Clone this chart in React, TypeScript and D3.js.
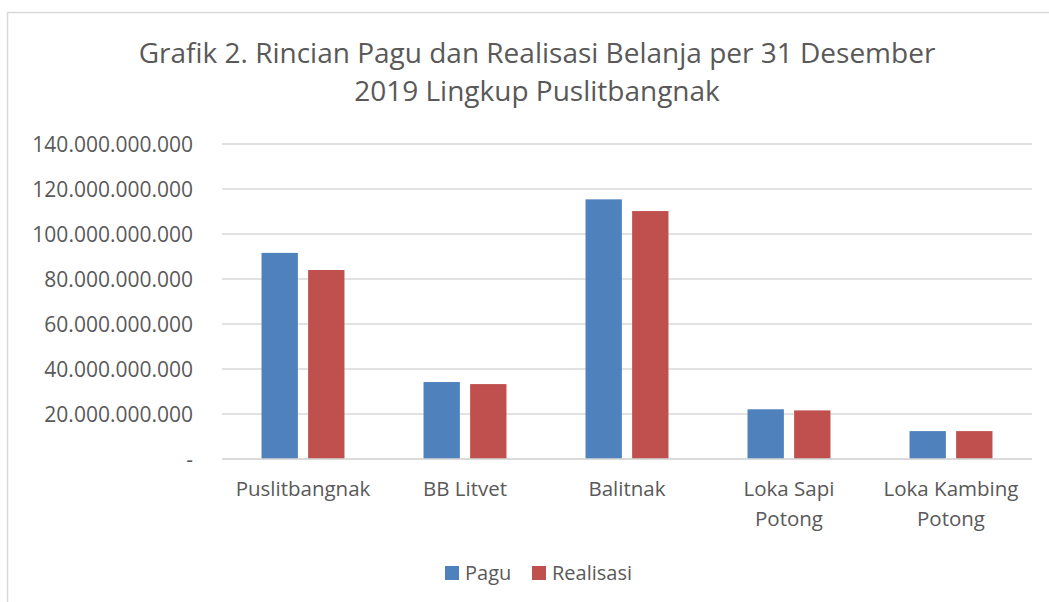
import React from "react";
import * as d3 from "d3";

const categories: string[][] = [
  ["Puslitbangnak"],
  ["BB Litvet"],
  ["Balitnak"],
  ["Loka Sapi", "Potong"],
  ["Loka Kambing", "Potong"],
];
const categoryKeys = ["Puslitbangnak", "BB Litvet", "Balitnak", "Loka Sapi Potong", "Loka Kambing Potong"];
const seriesNames = ["Pagu", "Realisasi"];
const pagu = [91.6e9, 34.2e9, 115.4e9, 22.1e9, 12.4e9];
const realisasi = [84.0e9, 33.3e9, 110.2e9, 21.6e9, 12.4e9];
const yTicks = [0, 20e9, 40e9, 60e9, 80e9, 100e9, 120e9, 140e9];
const titleLines = ["Grafik 2. Rincian Pagu dan Realisasi Belanja per 31 Desember", "2019 Lingkup Puslitbangnak"];
const colors = ["#4F81BD", "#C0504D"];

const FONT = "'Open Sans', 'Noto Sans', sans-serif";
const TEXT = "#595959";
const GRID = "#d9d9d9";

function fmt(v: number): string {
  if (v === 0) return "-";
  return d3.format(",")(v).replace(/,/g, ".");
}

export default function App() {
  const W = 1049, H = 602;
  const left = 222, right = 1032, top = 144, bottom = 459;
  const y = d3.scaleLinear().domain([0, 140e9]).range([bottom, top]);
  const x = d3.scaleBand<string>().domain(categoryKeys).range([left, right]).paddingInner(0.488).paddingOuter(0.244);
  const xs = d3.scaleBand<string>().domain(seriesNames).range([0, x.bandwidth()]).paddingInner(0.22).paddingOuter(0);
  const series = [pagu, realisasi];

  return (
    <svg width={W} height={H} style={{ position: "absolute", left: 0, top: 0, background: "#fff" }} fontFamily={FONT}>
      <rect x={0} y={0} width={W} height={H} fill="#fff" />
      <path d={`M7.5,${H} V12.5 H${W}`} fill="none" stroke={GRID} strokeWidth={1.5} />
      {titleLines.map((t, i) => (
        <text key={i} x={537} y={63 + i * 38} textAnchor="middle" fontSize={28} fill={TEXT}>{t}</text>
      ))}
      {yTicks.map((t) => (
        <g key={t}>
          <line x1={left} x2={right} y1={y(t)} y2={y(t)} stroke={GRID} strokeWidth={1.5} />
          <text x={193} y={y(t)} dy="0.36em" textAnchor="end" fontSize={21} fill={TEXT}>{fmt(t)}</text>
        </g>
      ))}
      {categoryKeys.map((c, ci) => (
        <g key={c}>
          {series.map((s, si) => (
            <rect key={si}
              x={(x(c) as number) + (xs(seriesNames[si]) as number)}
              y={y(s[ci])}
              width={xs.bandwidth()}
              height={bottom - y(s[ci])}
              fill={colors[si]} />
          ))}
          {categories[ci].map((line, li) => (
            <text key={li} x={(x(c) as number) + x.bandwidth() / 2} y={496 + li * 30} textAnchor="middle" fontSize={20.5} fill={TEXT}>{line}</text>
          ))}
        </g>
      ))}
      <line x1={left} x2={right} y1={bottom} y2={bottom} stroke={GRID} strokeWidth={1.5} />
      {seriesNames.map((n, i) => {
        const lx = [445, 532][i];
        return (
          <g key={n}>
            <rect x={lx} y={566} width={14} height={14} fill={colors[i]} />
            <text x={lx + 20} y={580} fontSize={20} fill={TEXT}>{n}</text>
          </g>
        );
      })}
    </svg>
  );
}
